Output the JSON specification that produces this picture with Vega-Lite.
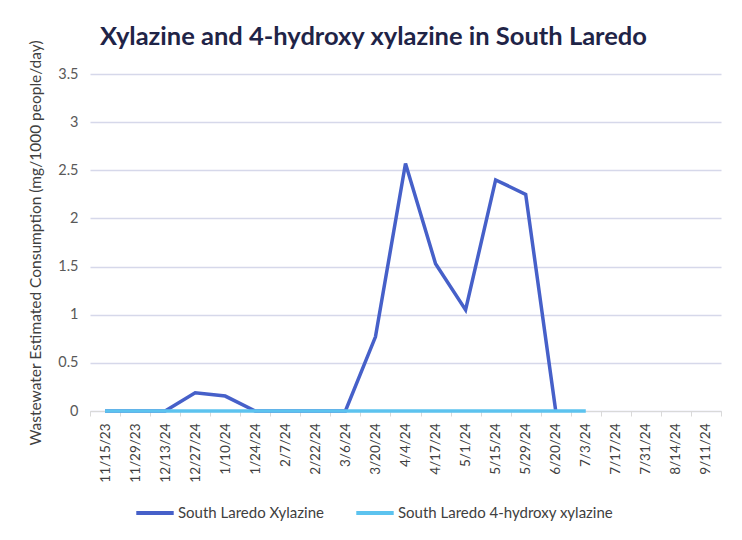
{
  "$schema": "https://vega.github.io/schema/vega-lite/v6.json",
  "autosize": {"type": "none"},
  "padding": {"left": 90, "top": 74, "right": 21, "bottom": 129},
  "width": 631,
  "height": 337,
  "background": "white",
  "title": {
    "text": "Xylazine and 4-hydroxy xylazine in South Laredo",
    "font": "Lato",
    "fontSize": 25.5,
    "fontWeight": "bold",
    "color": "#1f2447",
    "anchor": "middle",
    "frame": "group",
    "dx": -32,
    "offset": -11
  },
  "config": {
    "view": {"stroke": null},
    "font": "Lato"
  },
  "data": {
    "values": [
      {"date": "11/15/23", "series": "South Laredo Xylazine", "value": 0},
      {"date": "11/29/23", "series": "South Laredo Xylazine", "value": 0},
      {"date": "12/13/24", "series": "South Laredo Xylazine", "value": 0},
      {"date": "12/27/24", "series": "South Laredo Xylazine", "value": 0.19},
      {"date": "1/10/24", "series": "South Laredo Xylazine", "value": 0.155},
      {"date": "1/24/24", "series": "South Laredo Xylazine", "value": 0},
      {"date": "2/7/24", "series": "South Laredo Xylazine", "value": 0},
      {"date": "2/22/24", "series": "South Laredo Xylazine", "value": 0},
      {"date": "3/6/24", "series": "South Laredo Xylazine", "value": 0},
      {"date": "3/20/24", "series": "South Laredo Xylazine", "value": 0.77},
      {"date": "4/4/24", "series": "South Laredo Xylazine", "value": 2.57},
      {"date": "4/17/24", "series": "South Laredo Xylazine", "value": 1.53},
      {"date": "5/1/24", "series": "South Laredo Xylazine", "value": 1.05},
      {"date": "5/15/24", "series": "South Laredo Xylazine", "value": 2.4},
      {"date": "5/29/24", "series": "South Laredo Xylazine", "value": 2.25},
      {"date": "6/20/24", "series": "South Laredo Xylazine", "value": 0},
      {"date": "11/15/23", "series": "South Laredo 4-hydroxy xylazine", "value": 0},
      {"date": "11/29/23", "series": "South Laredo 4-hydroxy xylazine", "value": 0},
      {"date": "12/13/24", "series": "South Laredo 4-hydroxy xylazine", "value": 0},
      {"date": "12/27/24", "series": "South Laredo 4-hydroxy xylazine", "value": 0},
      {"date": "1/10/24", "series": "South Laredo 4-hydroxy xylazine", "value": 0},
      {"date": "1/24/24", "series": "South Laredo 4-hydroxy xylazine", "value": 0},
      {"date": "2/7/24", "series": "South Laredo 4-hydroxy xylazine", "value": 0},
      {"date": "2/22/24", "series": "South Laredo 4-hydroxy xylazine", "value": 0},
      {"date": "3/6/24", "series": "South Laredo 4-hydroxy xylazine", "value": 0},
      {"date": "3/20/24", "series": "South Laredo 4-hydroxy xylazine", "value": 0},
      {"date": "4/4/24", "series": "South Laredo 4-hydroxy xylazine", "value": 0},
      {"date": "4/17/24", "series": "South Laredo 4-hydroxy xylazine", "value": 0},
      {"date": "5/1/24", "series": "South Laredo 4-hydroxy xylazine", "value": 0},
      {"date": "5/15/24", "series": "South Laredo 4-hydroxy xylazine", "value": 0},
      {"date": "5/29/24", "series": "South Laredo 4-hydroxy xylazine", "value": 0},
      {"date": "6/20/24", "series": "South Laredo 4-hydroxy xylazine", "value": 0},
      {"date": "7/3/24", "series": "South Laredo 4-hydroxy xylazine", "value": 0}
    ]
  },
  "encoding": {
    "x": {
      "field": "date",
      "type": "ordinal",
      "bandPosition": 0.5,
      "scale": {
        "type": "band",
        "paddingInner": 0,
        "paddingOuter": 0,
        "domain": ["11/15/23", "11/29/23", "12/13/24", "12/27/24", "1/10/24", "1/24/24", "2/7/24", "2/22/24", "3/6/24", "3/20/24", "4/4/24", "4/17/24", "5/1/24", "5/15/24", "5/29/24", "6/20/24", "7/3/24", "7/17/24", "7/31/24", "8/14/24", "9/11/24"]
      },
      "axis": {
        "title": null,
        "labelAngle": -90,
        "labelFontSize": 13.5,
        "labelColor": "#404040",
        "labelPadding": 7,
        "tickBand": "extent",
        "ticks": true,
        "tickSize": 5,
        "tickColor": "#d9d9d9",
        "domainColor": "#d9d9d9",
        "domainWidth": 1,
        "grid": false
      }
    },
    "y": {
      "field": "value",
      "type": "quantitative",
      "scale": {"domain": [0, 3.5], "nice": false},
      "axis": {
        "title": "Wastewater Estimated Consumption (mg/1000 people/day)",
        "titleFontSize": 15.5,
        "titleFontWeight": "normal",
        "titleColor": "#404040",
        "titlePadding": 14,
        "values": [0, 0.5, 1, 1.5, 2, 2.5, 3, 3.5],
        "format": "~g",
        "labelFontSize": 14.5,
        "labelColor": "#595959",
        "labelPadding": 12,
        "domain": false,
        "ticks": false,
        "grid": true,
        "gridColor": "#d6d8ea",
        "gridWidth": 1.5
      }
    },
    "color": {
      "field": "series",
      "type": "nominal",
      "scale": {
        "domain": ["South Laredo Xylazine", "South Laredo 4-hydroxy xylazine"],
        "range": ["#4660c9", "#5cc3ef"]
      },
      "legend": {
        "title": null,
        "orient": "none",
        "direction": "horizontal",
        "legendX": 44,
        "legendY": 418,
        "symbolType": "stroke",
        "symbolStrokeWidth": 4,
        "symbolSize": 1400,
        "labelFontSize": 15,
        "labelColor": "#404040",
        "labelOffset": 2,
        "labelLimit": 400,
        "columnPadding": 24
      }
    }
  },
  "layer": [
    {
      "transform": [{"filter": "datum.series === 'South Laredo Xylazine'"}],
      "mark": {"type": "line", "strokeWidth": 3.5}
    },
    {
      "transform": [{"filter": "datum.series === 'South Laredo 4-hydroxy xylazine'"}],
      "mark": {"type": "line", "strokeWidth": 3.5}
    }
  ]
}
